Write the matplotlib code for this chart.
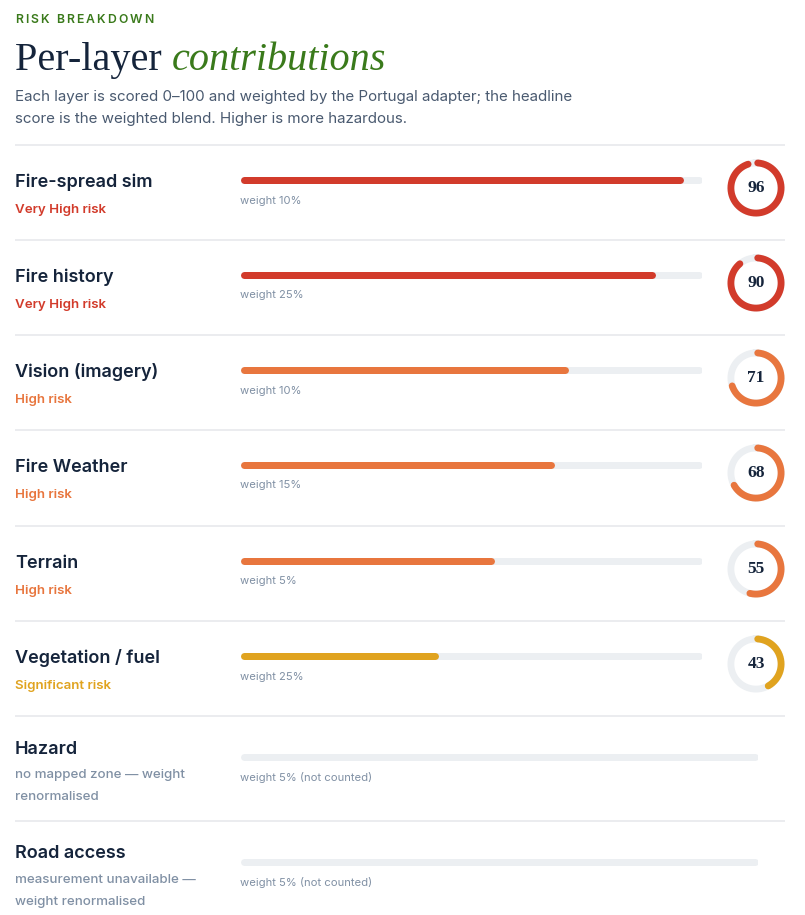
import matplotlib
matplotlib.use("Agg")
import matplotlib.pyplot as plt
import numpy as np

# ---------------- data ----------------
layers = ["Fire-spread sim", "Fire history", "Vision (imagery)", "Fire Weather",
          "Terrain", "Vegetation / fuel", "Hazard", "Road access"]
scores = [96, 90, 71, 68, 55, 43, None, None]
weights = [10, 25, 10, 15, 5, 25, 5, 5]
bands = ["Very High risk", "Very High risk", "High risk", "High risk",
         "High risk", "Significant risk", None, None]
notes = [None, None, None, None, None, None,
         "no mapped zone \u2014 weight\nrenormalised",
         "measurement unavailable \u2014\nweight renormalised"]

eyebrow = "RISK BREAKDOWN"
title_plain = "Per-layer "
title_accent = "contributions"
subtitle = ["Each layer is scored 0\u2013100 and weighted by the Portugal adapter; the headline",
            "score is the weighted blend. Higher is more hazardous."]

# ---------------- style ----------------
band_colors = {"Very High risk": "#D23B2B", "High risk": "#E8763E",
               "Significant risk": "#E0A31F"}
NAVY = "#15243B"
TEXT2 = "#4A5A70"
MUTED = "#8090A4"
GREEN = "#3A7A1B"
TRACK = "#ECEFF2"
RULE = "#E7E9EC"

W, H, DPI = 805, 915, 100
SANS = ["Inter", "DejaVu Sans"]
SERIF = ["Liberation Serif", "DejaVu Serif"]

fig = plt.figure(figsize=(W / DPI, H / DPI), dpi=DPI)
fig.patch.set_facecolor("white")
renderer = fig.canvas.get_renderer()


def fx(x):
    return x / W


def fy(y):
    return 1 - y / H


def px_box(x, y, w, h):
    """figure-fraction rect from pixel box (top-left origin)."""
    return [x / W, 1 - (y + h) / H, w / W, h / H]


# background axes for rules
bg = fig.add_axes([0, 0, 1, 1])
bg.set_xlim(0, W)
bg.set_ylim(H, 0)
bg.set_axis_off()

# ---------------- header ----------------
x = 15
for ch in eyebrow:
    if ch == " ":
        x += 5.5
        continue
    t = fig.text(fx(x), fy(23), ch, color=GREEN, fontsize=8.8, fontweight="semibold",
                 family=SANS, ha="left", va="baseline")
    x += t.get_window_extent(renderer).width + 2.0

t1 = fig.text(fx(15), fy(70), title_plain, color=NAVY, fontsize=29, family=SERIF,
              ha="left", va="baseline")
w1 = t1.get_window_extent(renderer).width
fig.text(fx(15 + w1), fy(70), title_accent, color=GREEN, fontsize=29, family=SERIF,
         style="italic", ha="left", va="baseline")

for k, line in enumerate(subtitle):
    fig.text(fx(15), fy(101 + 22 * k), line, color=TEXT2, fontsize=10.9, family=SANS,
             ha="left", va="baseline")

# ---------------- rows ----------------
seps = [145, 240, 335, 430, 526, 621, 716, 821]
bg.hlines(seps, 15, 785, color=RULE, lw=1.2)

BAR_X = 240
BAR_H_PX = 7.0
LW_BAR = BAR_H_PX * 72 / DPI
R_OUT = 28.5
RING_PX = 6.8
RING_LW = RING_PX * 72 / DPI
D_BOX = 64

for i, name in enumerate(layers):
    s = seps[i]
    score = scores[i]
    scored = score is not None
    fig.text(fx(15), fy(s + 42 if scored else s + 37.5), name, color=NAVY, fontsize=13,
             fontweight="semibold", family=SANS, ha="left", va="baseline")
    if scored:
        col = band_colors[bands[i]]
        fig.text(fx(15), fy(s + 68), bands[i], color=col, fontsize=9.6,
                 fontweight="semibold", family=SANS, ha="left", va="baseline")
        bar_y, wt_y, track_w = s + 35, s + 58.5, 462
        wlabel = f"weight {weights[i]}%"
    else:
        for k, ln in enumerate(notes[i].split("\n")):
            fig.text(fx(15), fy(s + 62 + 22 * k), ln, color=MUTED, fontsize=9.6,
                     fontweight="medium", family=SANS, ha="left", va="baseline")
        bar_y, wt_y, track_w = s + 40.5, s + 65, 518
        wlabel = f"weight {weights[i]}% (not counted)"

    # bar
    bax = fig.add_axes(px_box(BAR_X, bar_y - 6, track_w, 12))
    bax.set_xlim(0, 100)
    bax.set_ylim(-1, 1)
    bax.set_axis_off()
    r = (BAR_H_PX / 2) / track_w * 100
    bax.plot([r, 100 - r], [0, 0], color=TRACK, lw=LW_BAR, solid_capstyle="round")
    if scored:
        bax.plot([r, score - r], [0, 0], color=col, lw=LW_BAR, solid_capstyle="round")

    fig.text(fx(BAR_X), fy(wt_y), wlabel, color=MUTED, fontsize=8.1, family=SANS,
             ha="left", va="baseline")

    # donut
    if scored:
        cy = s + 43
        dax = fig.add_axes(px_box(756 - D_BOX / 2, cy - D_BOX / 2, D_BOX, D_BOX),
                           projection="polar")
        dax.set_theta_zero_location("N")
        dax.set_theta_direction(-1)
        dax.set_ylim(0, 1)
        dax.set_axis_off()
        rc = (R_OUT - RING_PX / 2) / (D_BOX / 2)
        full = np.linspace(0, 2 * np.pi, 361)
        dax.plot(full, np.full_like(full, rc), color=TRACK, lw=RING_LW)
        cap = (RING_PX / 2) / (R_OUT - RING_PX / 2) * 0.5
        arc = np.linspace(cap, 2 * np.pi * score / 100 - cap, 300)
        dax.plot(arc, np.full_like(arc, rc), color=col, lw=RING_LW,
                 solid_capstyle="round")
        dax.text(0.5, 0.5, f"{score}", transform=dax.transAxes, ha="center",
                 va="center", color=NAVY, fontsize=12.5, fontweight="bold",
                 family=SERIF)

fig.savefig("out.png", dpi=DPI, facecolor="white")
